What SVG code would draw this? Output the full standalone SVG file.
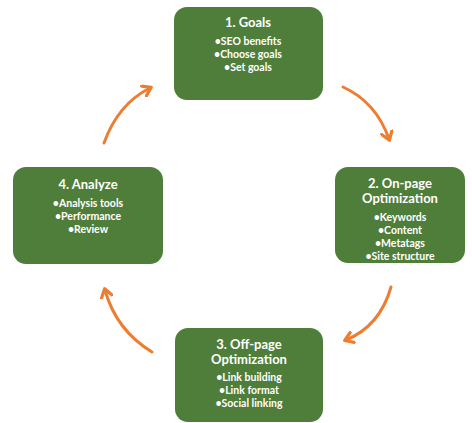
<svg xmlns="http://www.w3.org/2000/svg" width="472" height="423" viewBox="0 0 472 423">
<style>
.box{fill:#4f7e3b;}
.t{font-family:Lato,"Open Sans","Liberation Sans",sans-serif;fill:#ffffff;text-anchor:middle;}
.h{font-size:13px;font-weight:bold;}
.b{font-size:10.5px;font-weight:bold;}
.arr{fill:none;stroke:#ed7d31;stroke-width:3;stroke-linecap:round;}
</style>
<defs>
<marker id="ah" viewBox="0 0 10 10" refX="6" refY="5" markerWidth="4.5" markerHeight="4.5" orient="auto" markerUnits="strokeWidth">
<path d="M1,1 L7,5 L1,9" fill="none" stroke="#ed7d31" stroke-width="2.4" stroke-linecap="round" stroke-linejoin="round"/>
</marker>
</defs>
<rect width="472" height="423" fill="#ffffff"/>
<g id="connectors">
<path class="arr" d="M343,87 Q376,102 389,139" marker-end="url(#ah)"/>
<path class="arr" d="M391,287 Q380,326 346,340" marker-end="url(#ah)"/>
<path class="arr" d="M152,352 Q116,330 105,290" marker-end="url(#ah)"/>
<path class="arr" d="M104,143 Q118,104 150,88" marker-end="url(#ah)"/>
</g>
<g id="node1">
<rect class="box" x="174" y="7" width="149" height="93" rx="13"/>
<text class="t h" x="248" y="27">1. Goals</text>
<text class="t b" x="248" y="45">•SEO benefits</text>
<text class="t b" x="248" y="58">•Choose goals</text>
<text class="t b" x="248" y="71">•Set goals</text>
</g>
<g id="node2">
<rect class="box" x="335" y="167" width="130" height="96" rx="13"/>
<text class="t h" x="400" y="188">2. On-page</text>
<text class="t h" x="400" y="203">Optimization</text>
<text class="t b" x="400" y="221">•Keywords</text>
<text class="t b" x="400" y="234">•Content</text>
<text class="t b" x="400" y="247">•Metatags</text>
<text class="t b" x="400" y="260">•Site structure</text>
</g>
<g id="node3">
<rect class="box" x="175" y="328" width="148" height="94" rx="13"/>
<text class="t h" x="249" y="349">3. Off-page</text>
<text class="t h" x="249" y="364">Optimization</text>
<text class="t b" x="249" y="381">•Link building</text>
<text class="t b" x="249" y="394">•Link format</text>
<text class="t b" x="249" y="407">•Social linking</text>
</g>
<g id="node4">
<rect class="box" x="13" y="167" width="150" height="97" rx="13"/>
<text class="t h" x="88" y="189">4. Analyze</text>
<text class="t b" x="88" y="207">•Analysis tools</text>
<text class="t b" x="88" y="220">•Performance</text>
<text class="t b" x="88" y="233">•Review</text>
</g>
</svg>
